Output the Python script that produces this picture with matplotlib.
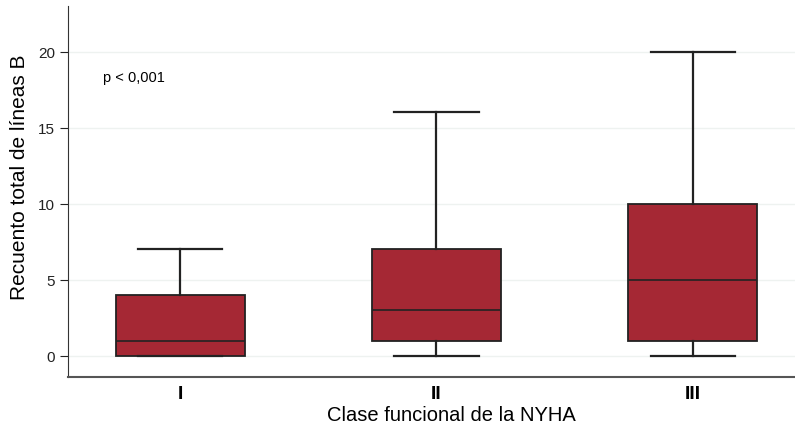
import matplotlib.pyplot as plt

plt.rcParams['font.family'] = ['Liberation Sans', 'DejaVu Sans']

groups = ['I', 'II', 'III']
q1 = [0, 1, 1]
med = [1, 3, 5]
q3 = [4, 7, 10]
whis_lo = [0, 0, 0]
whis_hi = [7, 16, 20]

stats = []
for g, a, m, b, lo, hi in zip(groups, q1, med, q3, whis_lo, whis_hi):
    stats.append({'label': g, 'q1': a, 'med': m, 'q3': b,
                  'whislo': lo, 'whishi': hi, 'fliers': []})

fig = plt.figure(figsize=(7.95, 4.31), dpi=100)
ax = fig.add_axes([0.0855, 0.123, 0.9145, 0.861])

ax.bxp(stats, positions=[1, 2, 3], widths=0.503, capwidths=0.33,
       patch_artist=True, showfliers=False,
       boxprops=dict(facecolor='#a52834', edgecolor='#222222', linewidth=1.3),
       medianprops=dict(color='#222222', linewidth=1.2),
       whiskerprops=dict(color='#222222', linewidth=1.6),
       capprops=dict(color='#222222', linewidth=1.6))

ax.set_xlim(0.563, 3.398)
ax.set_ylim(-1.38, 23.0)
ax.set_yticks([0, 5, 10, 15, 20])
ax.yaxis.grid(True, color='#eef2f0', linewidth=1)
ax.set_axisbelow(True)

ax.spines['top'].set_visible(False)
ax.spines['right'].set_visible(False)
ax.spines['left'].set_color('#333333')
ax.spines['bottom'].set_color('#555555')
ax.spines['bottom'].set_linewidth(1.5)

ax.tick_params(axis='x', length=0, pad=6)
ax.tick_params(axis='y', length=6, labelsize=11, colors='#222222')
for lab in ax.get_xticklabels():
    lab.set_fontweight('bold')
    lab.set_fontsize(14)

ax.set_ylabel('Recuento total de líneas B', fontsize=15)
ax.set_xlabel('Clase funcional de la NYHA', fontsize=14.5)
ax.xaxis.set_label_coords(0.527, -0.075)
ax.yaxis.set_label_coords(-0.053, 0.54)

ax.text(0.048, 0.809, 'p < 0,001', transform=ax.transAxes, fontsize=10.5,
        va='center', ha='left')

fig.savefig('out.png', dpi=100)
